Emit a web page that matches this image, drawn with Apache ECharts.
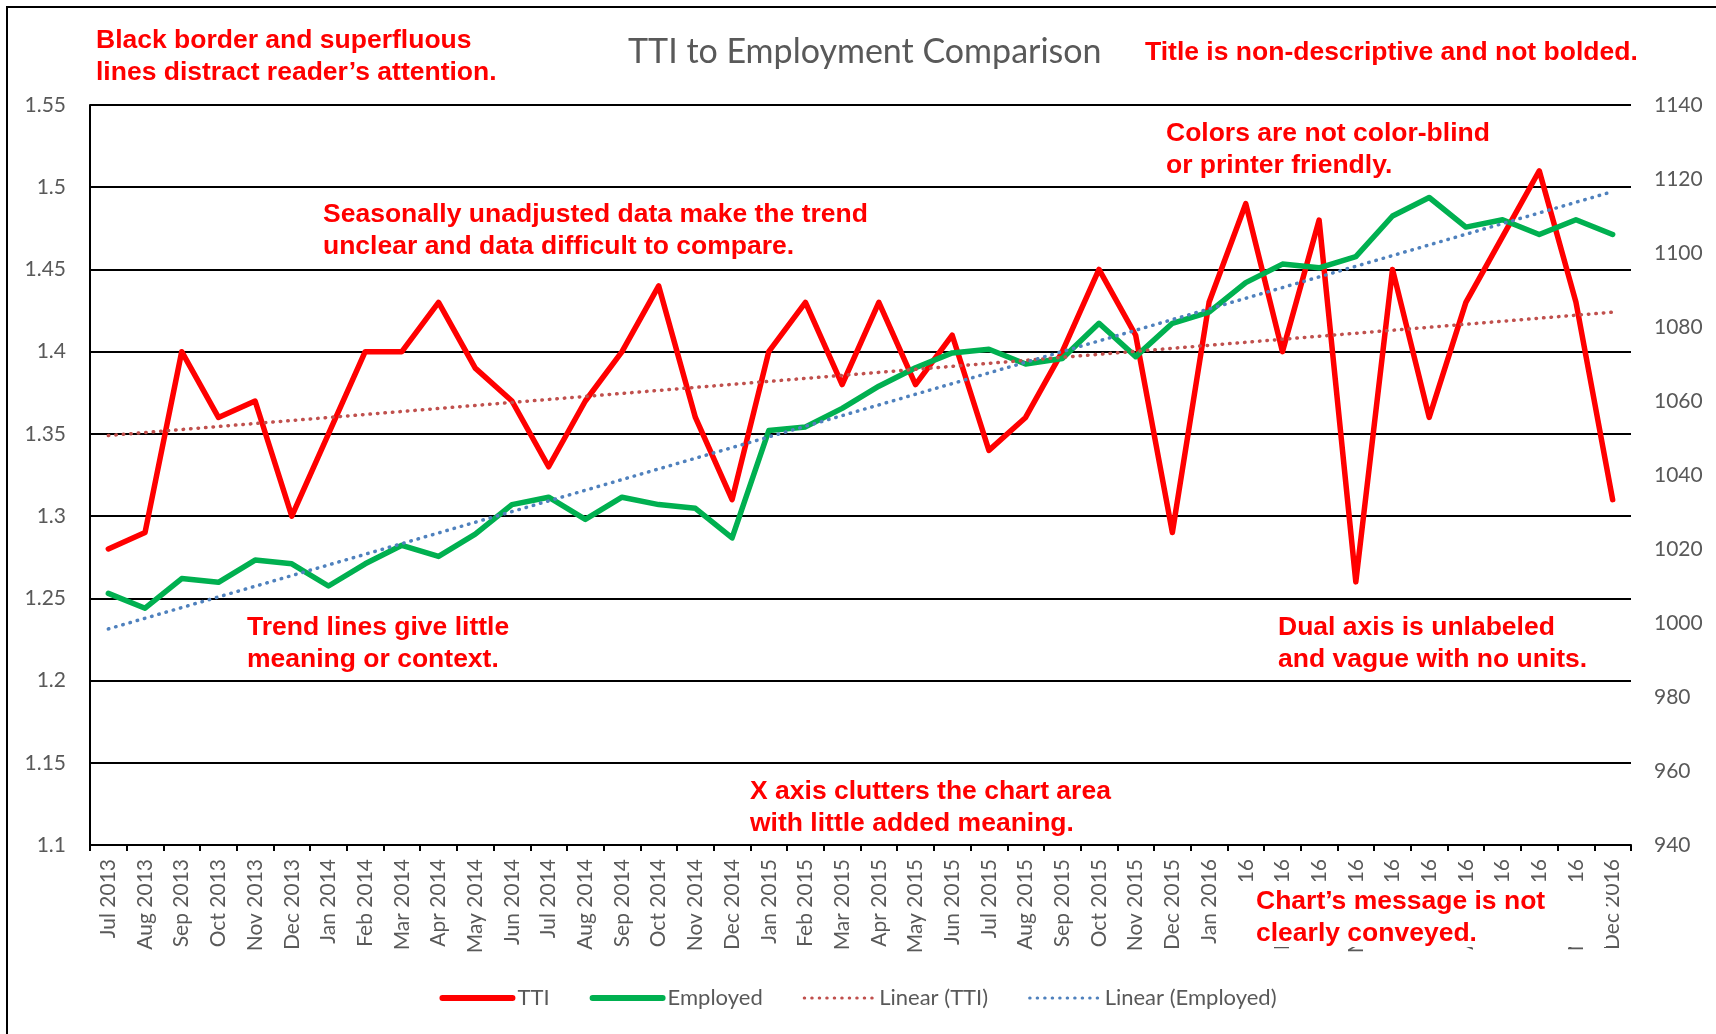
<!DOCTYPE html>
<html>
<head>
<meta charset="utf-8">
<title>TTI to Employment Comparison</title>
<script src="https://cdn.jsdelivr.net/npm/echarts@6/dist/echarts.min.js"></script>
<style>
  html, body { margin: 0; padding: 0; background: #fff; }
  #chart { width: 1716px; height: 1034px; }
</style>
</head>
<body>
<div id="chart"></div>
<script>
var months = [
  'Jul 2013', 'Aug 2013', 'Sep 2013', 'Oct 2013', 'Nov 2013', 'Dec 2013',
  'Jan 2014', 'Feb 2014', 'Mar 2014', 'Apr 2014', 'May 2014', 'Jun 2014',
  'Jul 2014', 'Aug 2014', 'Sep 2014', 'Oct 2014', 'Nov 2014', 'Dec 2014',
  'Jan 2015', 'Feb 2015', 'Mar 2015', 'Apr 2015', 'May 2015', 'Jun 2015',
  'Jul 2015', 'Aug 2015', 'Sep 2015', 'Oct 2015', 'Nov 2015', 'Dec 2015',
  'Jan 2016', 'Feb 2016', 'Mar 2016', 'Apr 2016', 'May 2016', 'Jun 2016',
  'Jul 2016', 'Aug 2016', 'Sep 2016', 'Oct 2016', 'Nov 2016', 'Dec 2016'
];
var tti = [
  1.28, 1.29, 1.40, 1.36, 1.37, 1.30,
  1.35, 1.40, 1.40, 1.43, 1.39, 1.37,
  1.33, 1.37, 1.40, 1.44, 1.36, 1.31,
  1.40, 1.43, 1.38, 1.43, 1.38, 1.41,
  1.34, 1.36, 1.40, 1.45, 1.41, 1.29,
  1.43, 1.49, 1.40, 1.48, 1.26, 1.45,
  1.36, 1.43, 1.47, 1.51, 1.43, 1.31
];
var employed = [
  1008, 1004, 1012, 1011, 1017, 1016,
  1010, 1016, 1021, 1018, 1024, 1032,
  1034, 1028, 1034, 1032, 1031, 1023,
  1052, 1053, 1058, 1064, 1069, 1073,
  1074, 1070, 1071.5, 1081, 1072, 1081,
  1084, 1092, 1097, 1096, 1099, 1110,
  1115, 1107, 1109, 1105, 1109, 1105
];
// trend lines: values read at the first and last month
var ttiTrend = [1.349, 1.424];
var employedTrend = [998.4, 1116.6];
// axis ticks
var leftTicks = [1.1, 1.15, 1.2, 1.25, 1.3, 1.35, 1.4, 1.45, 1.5, 1.55];
var rightTicks = [940, 960, 980, 1000, 1020, 1040, 1060, 1080, 1100, 1120, 1140];

var chart = echarts.init(document.getElementById('chart'));

var labelFont = 'Lato';
var grey = '#595959';
var noteFont = 'bold 26.5px "Liberation Sans", Arial, sans-serif';
var dots = [0.5, 7];

function note(text, left, top) {
  return {
    type: 'text',
    left: left,
    top: top,
    z: 100,
    style: {
      text: text,
      fill: '#FF0000',
      font: noteFont,
      lineHeight: 32
    }
  };
}

var option = {
  backgroundColor: '#fff',
  animation: false,
  title: {
    text: 'TTI to Employment Comparison',
    left: 623,
    top: 30,
    textStyle: {
      color: grey,
      fontFamily: labelFont,
      fontWeight: 'normal',
      fontSize: 34
    }
  },
  legend: {
    left: 'center',
    top: 982,
    itemWidth: 70,
    itemHeight: 14,
    itemGap: 40,
    textStyle: { color: grey, fontFamily: labelFont, fontSize: 22 },
    data: [
      { name: 'TTI', itemStyle: { opacity: 0 }, lineStyle: { width: 6, cap: 'round' } },
      { name: 'Employed', itemStyle: { opacity: 0 }, lineStyle: { width: 6, cap: 'round' } },
      { name: 'Linear (TTI)', itemStyle: { opacity: 0 }, lineStyle: { width: 3, type: dots, cap: 'round' } },
      { name: 'Linear (Employed)', itemStyle: { opacity: 0 }, lineStyle: { width: 3, type: dots, cap: 'round' } }
    ]
  },
  grid: {
    left: 90,
    right: 85,
    top: 105,
    bottom: 189,
    containLabel: false,
    outerBoundsMode: 'none'
  },
  xAxis: {
    type: 'category',
    data: months,
    boundaryGap: true,
    axisLine: { onZero: false, lineStyle: { color: '#000', width: 2 } },
    axisTick: { show: true, length: 6, lineStyle: { color: '#000', width: 2 } },
    axisLabel: {
      rotate: 90,
      interval: 0,
      margin: 14,
      color: grey,
      fontFamily: labelFont,
      fontSize: 21
    },
    splitLine: { show: false }
  },
  yAxis: [{
    type: 'value',
    position: 'left',
    min: leftTicks[0],
    max: leftTicks[leftTicks.length - 1],
    interval: 0.05,
    axisLine: { show: true, lineStyle: { color: '#000', width: 2 } },
    axisTick: { show: false },
    axisLabel: { margin: 24, color: grey, fontFamily: labelFont, fontSize: 21 },
    splitLine: { show: true, lineStyle: { color: '#000', width: 2 } }
  }, {
    type: 'value',
    position: 'right',
    min: rightTicks[0],
    max: rightTicks[rightTicks.length - 1],
    interval: 20,
    axisLine: { show: false },
    axisTick: { show: false },
    axisLabel: {
      margin: 23,
      color: grey,
      fontFamily: labelFont,
      fontSize: 21,
      formatter: function (v) { return String(v); }
    },
    splitLine: { show: false }
  }],
  series: [{
    name: 'TTI',
    type: 'line',
    yAxisIndex: 0,
    data: tti,
    symbol: 'none',
    color: '#FF0000',
    lineStyle: { color: '#FF0000', width: 5.5, join: 'round', cap: 'round' },
    z: 3
  }, {
    name: 'Employed',
    type: 'line',
    yAxisIndex: 1,
    data: employed,
    symbol: 'none',
    color: '#00B050',
    lineStyle: { color: '#00B050', width: 5.5, join: 'round', cap: 'round' },
    z: 4
  }, {
    name: 'Linear (TTI)',
    type: 'line',
    yAxisIndex: 0,
    data: [[months[0], ttiTrend[0]], [months[months.length - 1], ttiTrend[1]]],
    symbol: 'none',
    color: '#C0504D',
    lineStyle: { color: '#C0504D', width: 3.5, type: dots, cap: 'round' },
    z: 5
  }, {
    name: 'Linear (Employed)',
    type: 'line',
    yAxisIndex: 1,
    data: [[months[0], employedTrend[0]], [months[months.length - 1], employedTrend[1]]],
    symbol: 'none',
    color: '#4F81BD',
    lineStyle: { color: '#4F81BD', width: 3.5, type: dots, cap: 'round' },
    z: 5
  }],
  graphic: [
    {
      type: 'polyline',
      silent: true,
      z: 100,
      shape: { points: [[7, 1100], [7, 7], [1800, 7]] },
      style: { stroke: '#000', lineWidth: 2, fill: null }
    },
    note('Black border and superfluous\nlines distract reader\u2019s attention.', 96, 25),
    note('Title is non-descriptive and not bolded.', 1145, 37),
    note('Colors are not color-blind\nor printer friendly.', 1166, 118),
    note('Seasonally unadjusted data make the trend\nunclear and data difficult to compare.', 323, 199),
    note('Trend lines give little\nmeaning or context.', 247, 612),
    note('Dual axis is unlabeled\nand vague with no units.', 1278, 612),
    note('X axis clutters the chart area\nwith little added meaning.', 750, 776),
    {
      type: 'rect',
      silent: true,
      z: 99,
      shape: { x: 1232, y: 881, width: 374, height: 66 },
      style: { fill: '#fff' }
    },
    note('Chart\u2019s message is not\nclearly conveyed.', 1256, 886)
  ]
};

chart.setOption(option);
</script>
</body>
</html>
